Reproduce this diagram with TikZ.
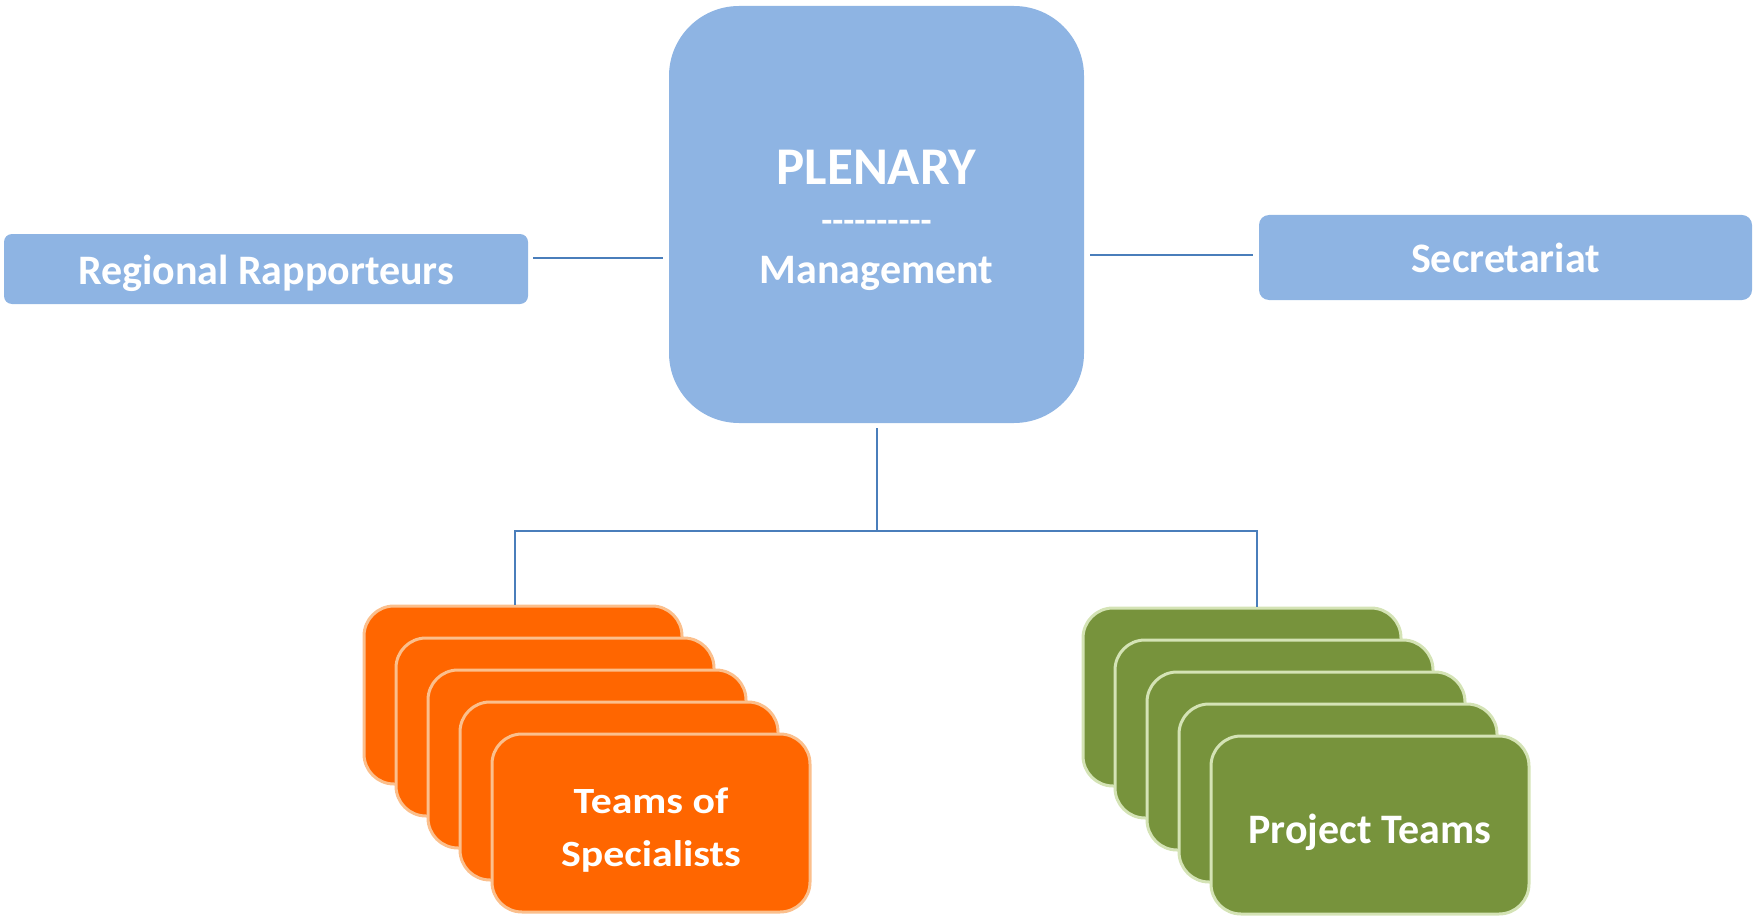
\documentclass[tikz,border=0pt]{standalone}
\usepackage{fontspec}
\setmainfont{Carlito}
\usepackage{graphicx}
\definecolor{boxblue}{HTML}{8EB4E3}
\definecolor{linkblue}{HTML}{4A7EBB}
\definecolor{orangefill}{HTML}{FF6600}
\definecolor{orangeedge}{HTML}{FBBF8C}
\definecolor{greenfill}{HTML}{77933C}
\definecolor{greenedge}{HTML}{D4E3B5}
\tikzset{
  bluebox/.style={fill=boxblue, draw=none, inner sep=0pt, text=white,
    font=\bfseries\fontsize{42}{50}\selectfont},
  plentext/.style={inner sep=0pt, text=white, anchor=base},
  labeltext/.style={inner sep=0pt, text=white, align=center},
  link/.style={draw=linkblue, line width=2pt},
  card/.style={line width=3pt, rounded corners=30pt, minimum width=318pt,
    minimum height=178pt, inner sep=0pt},
  ocard/.style={card, fill=orangefill, draw=orangeedge},
  gcard/.style={card, fill=greenfill, draw=greenedge},
}
\begin{document}
\begin{tikzpicture}[x=1pt,y=-1pt]
\path[use as bounding box] (0,0) rectangle (1753,920);

% central box
\node[bluebox, rounded corners=70pt, minimum width=415pt, minimum height=417pt] (plen) at (876.5,214.5) {};
\node[plentext, font=\bfseries\fontsize{53}{60}\selectfont] (plenT) at (876.5,185) {PLENARY};
\node[plentext, font=\bfseries\fontsize{36}{40}\selectfont] (plenD) at (876.5,233) {-{}-{}-{}-{}-{}-{}-{}-{}-{}-};
\node[plentext, font=\bfseries\fontsize{42}{50}\selectfont] (plenM) at (876.5,283) {Management};

% side boxes
\node[bluebox, rounded corners=8pt, minimum width=524pt, minimum height=70pt] (reg) at (266,269) {};
\node[labeltext, font=\bfseries\fontsize{42}{50}\selectfont] (regT) at ([yshift=-4pt]reg.center) {Regional Rapporteurs};
\node[bluebox, rounded corners=10pt, minimum width=493pt, minimum height=85pt] (sec) at (1505.5,257.5) {};
\node[labeltext, font=\bfseries\fontsize{42}{50}\selectfont] (secT) at (sec.center) {Secretariat};

% stacks of cards
\node[ocard] (o1) at (523,695) {};
\node[ocard] (o2) at (555,727) {};
\node[ocard] (o3) at (587,759) {};
\node[ocard] (o4) at (619,791) {};
\node[ocard] (o5) at (651,823) {};
\node[labeltext, font=\bfseries\fontsize{37}{53}\selectfont] (o5T) at ([yshift=-7pt]o5.center)
  {\scalebox{1.13}[1]{Teams of}\\\scalebox{1.13}[1]{Specialists}};

\node[gcard] (g1) at (1242,697) {};
\node[gcard] (g2) at (1274,729) {};
\node[gcard] (g3) at (1306,761) {};
\node[gcard] (g4) at (1338,793) {};
\node[gcard] (g5) at (1370,825) {};
\node[labeltext, font=\bfseries\fontsize{42}{50}\selectfont] (g5T) at ([yshift=-7pt]g5.center) {Project Teams};

% connectors
\coordinate (j) at (877.5,531);
\draw[link, shorten <=5pt, shorten >=6pt] ([yshift=11pt]reg.east) -- ([yshift=11pt]reg.east -| plen.west);
\draw[link, shorten <=6pt, shorten >=6pt] ([yshift=2.5pt]sec.west -| plen.east) -- ([yshift=2.5pt]sec.west);
\draw[link, shorten <=5pt] (plen.south) -- (plen.south |- j);
\draw[link] ([xshift=-8pt]o1.north) |- (j) -| ([xshift=15pt]g1.north);
\end{tikzpicture}
\end{document}
